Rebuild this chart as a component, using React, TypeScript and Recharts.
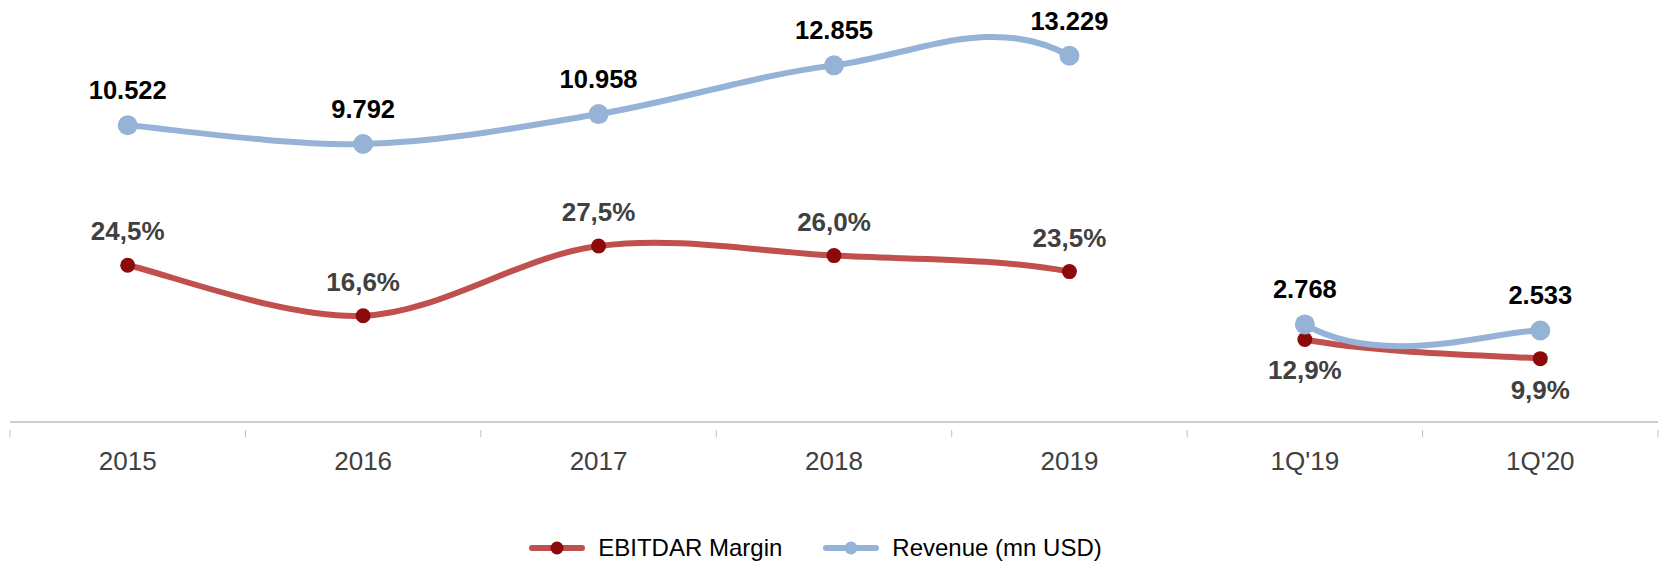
import React from "react"
import { LineChart, Line, XAxis, YAxis, Legend, LabelList } from "recharts"

const years = ["2015", "2016", "2017", "2018", "2019"]
const quarters = ["1Q'19", "1Q'20"]
const categories = [...years, ...quarters]

// EBITDAR margin, %
const ebitdarMargin = [24.5, 16.6, 27.5, 26.0, 23.5, 12.9, 9.9]
// Revenue, mn USD
const revenue = [10522, 9792, 10958, 12855, 13229, 2768, 2533]

const W = 1661
const H = 563
const M = { top: 38, right: 3, bottom: 0, left: 10 }
const BAND = (W - M.left - M.right) / categories.length

const RED = "#C0504D"
const RED_DOT = "#8C0A0A"
const BLUE = "#95B3D7"
const FONT = "'Liberation Sans', Arial, sans-serif"

const data = categories.map((cat, i) => ({
  cat,
  margin: ebitdarMargin[i],
  revenue: revenue[i],
}))

// Excel style smoothing (catmull-rom), with the year -> quarter segment left out
const GAP = years.length - 1
const excelSmooth = (context: any) => {
  let pts: number[][] = []
  return {
    areaStart() {},
    areaEnd() {},
    lineStart() {
      pts = []
    },
    point(x: number, y: number) {
      pts.push([+x, +y])
    },
    lineEnd() {
      const n = pts.length
      if (!n) return
      context.moveTo(pts[0][0], pts[0][1])
      for (let i = 0; i < n - 1; i++) {
        const p0 = pts[Math.max(0, i - 1)]
        const p1 = pts[i]
        const p2 = pts[i + 1]
        const p3 = pts[Math.min(n - 1, i + 2)]
        if (i === GAP) {
          context.moveTo(p2[0], p2[1])
          continue
        }
        context.bezierCurveTo(
          p1[0] + (p2[0] - p0[0]) / 6,
          p1[1] + (p2[1] - p0[1]) / 6,
          p2[0] - (p3[0] - p1[0]) / 6,
          p2[1] - (p3[1] - p1[1]) / 6,
          p2[0],
          p2[1]
        )
      }
    },
  }
}

const fmtRevenue = (v: number) => {
  const th = Math.floor(v / 1000)
  const rest = String(v % 1000).padStart(3, "0")
  return th > 0 ? `${th}.${rest}` : String(v)
}
const fmtPct = (v: number) => v.toFixed(1).replace(".", ",") + "%"

const isQuarter = (i: number) => quarters.includes(categories[i])

function CategoryTick(props: any) {
  const { x, y, payload, index } = props
  const last = index === categories.length - 1
  return (
    <g>
      <line x1={x - BAND / 2} x2={x - BAND / 2} y1={y} y2={y + 7} stroke="#BFBFBF" />
      {last && <line x1={x + BAND / 2} x2={x + BAND / 2} y1={y} y2={y + 7} stroke="#BFBFBF" />}
      <text x={x} y={y + 40} textAnchor="middle" fontSize={26} fill="#404040" fontFamily={FONT}>
        {payload.value}
      </text>
    </g>
  )
}

function RevenueLabel(props: any) {
  const { x, y, value } = props
  return (
    <text x={x} y={y - 26} textAnchor="middle" fontSize={25.5} fontWeight="bold" fill="#000" fontFamily={FONT}>
      {fmtRevenue(value)}
    </text>
  )
}

function MarginLabel(props: any) {
  const { x, y, value, index } = props
  const below = isQuarter(index)
  return (
    <text
      x={x}
      y={below ? y + 40 : y - 25}
      textAnchor="middle"
      fontSize={26}
      fontWeight="bold"
      fill="#404040"
      fontFamily={FONT}
    >
      {fmtPct(value)}
    </text>
  )
}

function LegendContent() {
  const items = [
    { name: "EBITDAR Margin", line: RED, dot: RED_DOT },
    { name: "Revenue (mn USD)", line: BLUE, dot: BLUE },
  ]
  return (
    <div
      style={{
        display: "flex",
        justifyContent: "center",
        alignItems: "center",
        height: 30,
        paddingRight: 38,
        gap: 40,
        fontFamily: FONT,
        fontSize: 24,
        color: "#000",
      }}
    >
      {items.map((it) => (
        <div key={it.name} style={{ display: "flex", alignItems: "center", gap: 12 }}>
          <svg width={58} height={16}>
            <line x1={4} x2={54} y1={8} y2={8} stroke={it.line} strokeWidth={6} strokeLinecap="round" />
            <circle cx={29} cy={8} r={6.5} fill={it.dot} />
          </svg>
          <span>{it.name}</span>
        </div>
      ))}
    </div>
  )
}

export default function App() {
  return (
    <div>
      <style>{`body{margin:0;overflow:hidden}`}</style>
      <LineChart width={W} height={H} data={data} margin={M}>
        <XAxis
          dataKey="cat"
          height={111}
          interval={0}
          padding={{ left: BAND / 2, right: BAND / 2 }}
          axisLine={{ stroke: "#BFBFBF", strokeWidth: 1.5 }}
          tickLine={false}
          tick={<CategoryTick />}
        />
        <YAxis yAxisId="pct" hide domain={[0, 60]} />
        <YAxis yAxisId="rev" hide domain={[-1030, 13920]} />
        <Legend verticalAlign="bottom" height={30} content={<LegendContent />} />
        <Line
          yAxisId="pct"
          dataKey="margin"
          name="EBITDAR Margin"
          type={excelSmooth as any}
          stroke={RED}
          strokeWidth={6}
          strokeLinecap="round"
          dot={{ r: 7.5, fill: RED_DOT, stroke: RED_DOT, strokeWidth: 0 }}
          activeDot={false}
          isAnimationActive={false}
        >
          <LabelList dataKey="margin" content={<MarginLabel />} />
        </Line>
        <Line
          yAxisId="rev"
          dataKey="revenue"
          name="Revenue (mn USD)"
          type={excelSmooth as any}
          stroke={BLUE}
          strokeWidth={6}
          strokeLinecap="round"
          dot={{ r: 10, fill: BLUE, stroke: BLUE, strokeWidth: 0 }}
          activeDot={false}
          isAnimationActive={false}
        >
          <LabelList dataKey="revenue" content={<RevenueLabel />} />
        </Line>
      </LineChart>
    </div>
  )
}
